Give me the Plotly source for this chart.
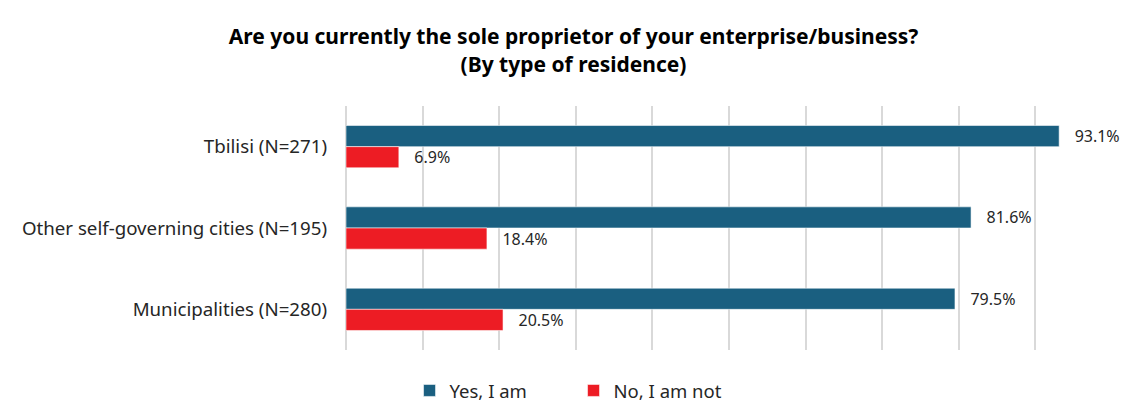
import plotly.graph_objects as go

categories = ["Tbilisi (N=271)", "Other self-governing cities (N=195)", "Municipalities (N=280)"]
yes_values = [93.1, 81.6, 79.5]
no_values = [6.9, 18.4, 20.5]
series_names = ["Yes, I am", "No, I am not"]
colors = ["#1a5f80", "#ed1c24"]

FONT = "Noto Sans"
TEXT_COLOR = "#262626"

fig = go.Figure()
for name, vals, col in zip(series_names, [yes_values, no_values], colors):
    fig.add_trace(go.Bar(
        y=categories,
        x=vals,
        name=name,
        orientation="h",
        marker=dict(color=col, line=dict(color="rgba(255,255,255,0.55)", width=1)),
        text=[f"{v:.1f}%" for v in vals],
        texttemplate="   %{text}",
        textposition="outside",
        textfont=dict(family=FONT, size=16, color=TEXT_COLOR),
        cliponaxis=False,
        constraintext="none",
    ))

fig.update_layout(
    width=1129,
    height=403,
    margin=dict(l=346, r=17, t=106, b=53),
    paper_bgcolor="white",
    plot_bgcolor="white",
    barmode="group",
    bargap=0.48,
    bargroupgap=0,
    title=dict(
        text="<b>Are you currently the sole proprietor of your enterprise/business?<br>(By type of residence)</b>",
        x=0.508,
        xanchor="center",
        y=0.89,
        yanchor="top",
        font=dict(family=FONT, size=21, color="#000000"),
    ),
    font=dict(family=FONT, color=TEXT_COLOR),
    xaxis=dict(
        range=[0, 100],
        dtick=10,
        showgrid=True,
        gridcolor="#d9d9d9",
        gridwidth=1.5,
        showticklabels=False,
        zeroline=True,
        zerolinecolor="#d9d9d9",
        zerolinewidth=1.5,
        fixedrange=True,
    ),
    yaxis=dict(
        autorange="reversed",
        showgrid=False,
        ticks="",
        tickfont=dict(family=FONT, size=18.7, color=TEXT_COLOR),
        ticklabelstandoff=18,
        showline=False,
    ),
    legend=dict(
        orientation="h",
        xref="container",
        yref="container",
        x=0.508,
        xanchor="center",
        y=0.03,
        yanchor="middle",
        font=dict(family=FONT, size=18.5, color=TEXT_COLOR),
        entrywidth=119,
        traceorder="normal",
    ),
    showlegend=True,
)

fig.write_html("out.html")
